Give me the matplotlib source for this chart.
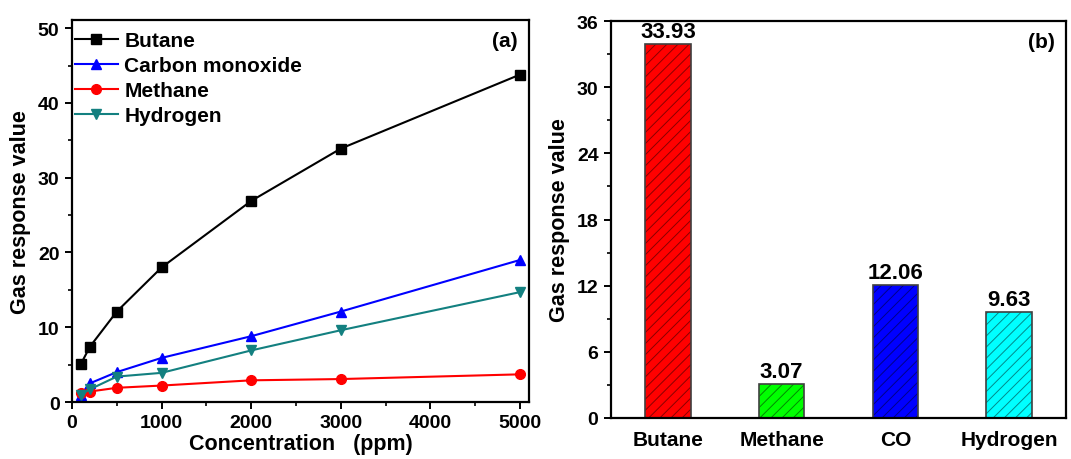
import matplotlib
matplotlib.use("Agg")
import matplotlib.pyplot as plt
from matplotlib.ticker import MultipleLocator

plt.rcParams['font.family'] = ['Liberation Sans', 'DejaVu Sans']
plt.rcParams['font.weight'] = 'bold'
plt.rcParams['hatch.linewidth'] = 0.7

# (a) response vs concentration
conc = [100, 200, 500, 1000, 2000, 3000, 5000]
butane = [5.1, 7.4, 12.1, 18.0, 26.9, 33.9, 43.8]
carbon_monoxide = [1.0, 2.5, 4.0, 5.9, 8.8, 12.1, 19.0]
methane = [1.2, 1.4, 1.9, 2.2, 2.9, 3.07, 3.7]
hydrogen = [1.0, 1.7, 3.4, 3.9, 6.9, 9.6, 14.7]

# (b) response at 3000 ppm
gases = ['Butane', 'Methane', 'CO', 'Hydrogen']
response = [33.93, 3.07, 12.06, 9.63]
bar_colors = ['#FF0000', '#00FF00', '#0000FF', '#00FFFF']
hatch_colors = ['#8a0000', '#008a00', '#00008a', '#008a8a']

fig = plt.figure(figsize=(10.71, 4.6), dpi=100)
ax1 = fig.add_axes([72 / 1071, 1 - 403 / 460, 457 / 1071, 382 / 460])
ax2 = fig.add_axes([611 / 1071, 1 - 419 / 460, 455 / 1071, 397 / 460])

ax1.plot(conc, butane, '-s', color='black', ms=6.5, lw=1.5, label='Butane')
ax1.plot(conc, carbon_monoxide, '-^', color='#0000FF', ms=7.5, lw=1.5, label='Carbon monoxide')
ax1.plot(conc, methane, '-o', color='#FF0000', ms=7, lw=1.5, label='Methane')
ax1.plot(conc, hydrogen, '-v', color='#138080', ms=7.5, lw=1.5, label='Hydrogen')

ax1.set_xlim(0, 5100)
ax1.set_ylim(0, 51.1)
ax1.xaxis.set_major_locator(MultipleLocator(1000))
ax1.xaxis.set_minor_locator(MultipleLocator(500))
ax1.yaxis.set_major_locator(MultipleLocator(10))
ax1.yaxis.set_minor_locator(MultipleLocator(5))
ax1.set_xlabel('Concentration   (ppm)', fontsize=15.5, fontweight='bold', labelpad=1)
ax1.set_ylabel('Gas response value', fontsize=15.5, fontweight='bold', labelpad=5)
ax1.text(0.975, 0.972, '(a)', transform=ax1.transAxes, ha='right', va='top',
         fontsize=15, fontweight='bold')
leg = ax1.legend(loc='upper left', bbox_to_anchor=(0.0, 0.978), frameon=False,
                 fontsize=15, handlelength=2.1, handletextpad=0.3, labelspacing=0.29,
                 borderaxespad=0.0, borderpad=0.12)

pos = range(len(gases))
for i in pos:
    ax2.bar(i, response[i], width=0.4, color=bar_colors[i], edgecolor='none')
    ax2.bar(i, response[i], width=0.4, fill=False, edgecolor=hatch_colors[i],
            hatch='///', linewidth=0)
    ax2.bar(i, response[i], width=0.4, fill=False, edgecolor='#404040', linewidth=1.2)
    ax2.text(i, response[i] + 0.15, f'{response[i]:.2f}', ha='center', va='bottom',
             fontsize=16, fontweight='bold')

ax2.set_xlim(-0.5, 3.5)
ax2.set_ylim(0, 36)
ax2.set_xticks(list(pos))
ax2.set_xticklabels(gases)
ax2.yaxis.set_major_locator(MultipleLocator(6))
ax2.yaxis.set_minor_locator(MultipleLocator(3))
ax2.set_ylabel('Gas response value', fontsize=15.5, fontweight='bold', labelpad=5)
ax2.text(0.975, 0.972, '(b)', transform=ax2.transAxes, ha='right', va='top',
         fontsize=15, fontweight='bold')

for ax in (ax1, ax2):
    for s in ax.spines.values():
        s.set_linewidth(1.6)
    ax.tick_params(which='major', direction='out', length=5, width=1.4, labelsize=14, pad=4)
    ax.tick_params(which='minor', direction='out', length=3, width=1.2)
    for lab in ax.get_xticklabels() + ax.get_yticklabels():
        lab.set_fontweight('bold')
ax2.tick_params(axis='x', which='both', length=0, labelsize=15, pad=9)
ax2.tick_params(axis='x', which='minor', bottom=False)

fig.savefig('out.png', dpi=100)
